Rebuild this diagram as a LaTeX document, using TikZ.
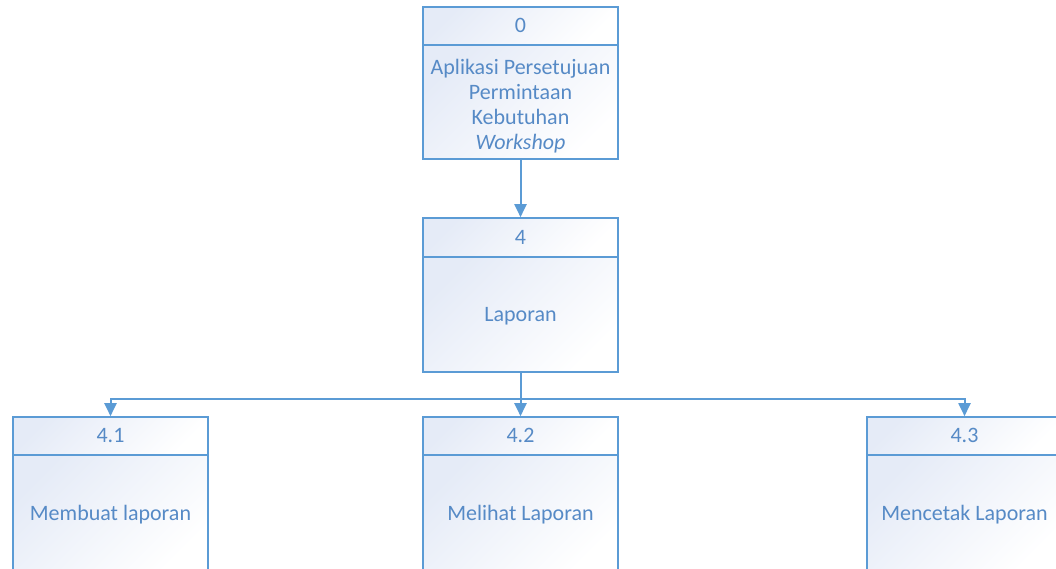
\documentclass[tikz,border=0pt]{standalone}
\usepackage{fontspec}
\setmainfont{Carlito}
\usetikzlibrary{arrows.meta}
\definecolor{edge}{RGB}{91,155,213}
\definecolor{ink}{RGB}{86,138,198}
\definecolor{tint}{RGB}{229,235,247}
\begin{document}
\begin{tikzpicture}[x=1pt,y=-1pt,
  cell/.style={draw=edge, line width=1.6pt, left color=tint, right color=white,
    shading angle=45, inner sep=0pt, minimum width=195pt, text=ink,
    font=\fontsize{22}{25}\selectfont, align=center},
  line/.style={cell, text height=18pt, text depth=4.4pt},
  flow/.style={draw=edge, line width=2pt, -{Triangle[length=13pt,width=12pt]}},
  bus/.style={draw=edge, line width=1.8pt}]
\useasboundingbox (0,0) rectangle (1056,569);
\clip (0,0) rectangle (1056,569);

% level 0 process (strut on the first line lowers the text block a little)
\node[line, minimum height=38pt]  (h0) at (520.5,26)  {0};
\node[cell, minimum height=114pt] (b0) at (520.5,102)
  {\rule{0pt}{24pt}Aplikasi Persetujuan\\Permintaan\\Kebutuhan\\\textit{Workshop}};

% process 4
\node[line, minimum height=39pt]  (h4) at (520.5,237.5) {4};
\node[line, minimum height=115pt] (b4) at (520.5,314.5) {Laporan};

% sub-processes of 4
\node[line, minimum height=38pt]  (h41) at (110.5,436) {4.1};
\node[line, minimum height=117pt] (b41) at (110.5,513.5) {Membuat laporan};
\node[line, minimum height=38pt]  (h42) at (520.5,436) {4.2};
\node[line, minimum height=117pt] (b42) at (520.5,513.5) {Melihat Laporan};
\node[line, minimum height=38pt]  (h43) at (964.5,436) {4.3};
\node[line, minimum height=117pt] (b43) at (964.5,513.5) {Mencetak Laporan};

% connectors
\coordinate (split) at (520.5,399);
\draw[flow] (b0.south) -- (h4.north);
\draw[flow] (b4.south) -- (h42.north);
\draw[bus] (h41.north |- split) -- (h43.north |- split);
\draw[flow] (split) -| (h41.north);
\draw[flow] (split) -| (h43.north);
\end{tikzpicture}
\end{document}
